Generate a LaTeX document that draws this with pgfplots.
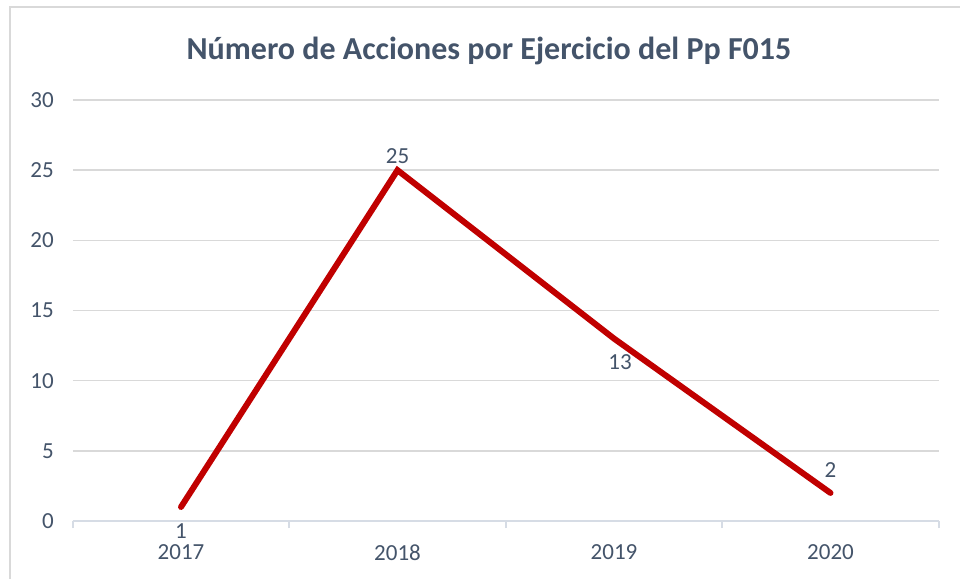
\documentclass[border=0pt]{standalone}
\usepackage{fontspec}
\setmainfont{Carlito}
\usepackage{pgfplots}
\pgfplotsset{compat=1.18}
\definecolor{txt}{HTML}{44546A}
\definecolor{grd}{HTML}{D9D9D9}
\definecolor{axl}{HTML}{D6DCE5}
\definecolor{ln}{HTML}{C00000}
\begin{document}
\begin{tikzpicture}
\useasboundingbox (0,0) rectangle (480pt,-289.5pt);
\fill[white] (0,0) rectangle (480pt,-289.5pt);
\draw[grd, line width=0.75pt] (5pt,-291pt) -- (5pt,-3.5pt) -- (482pt,-3.5pt);
\node[text=txt, font=\fontsize{16pt}{19pt}\selectfont\bfseries] at (244.5pt,-25.5pt) {Número de Acciones por Ejercicio del Pp F015};
\begin{axis}[
  at={(90.5pt,-260.5pt)}, anchor=origin,
  scale only axis, width=433pt, height=210.5pt,
  xmin=-0.5, xmax=3.5, ymin=0, ymax=30,
  xtick={0,1,2,3}, xticklabels={2017,2018,2019,2020},
  minor xtick={-0.5,0.5,1.5,2.5,3.5},
  ytick={0,5,10,15,20,25,30},
  major tick length=0pt, minor tick length=3.5pt, tick align=outside,
  axis x line*=bottom, axis y line*=left,
  x axis line style={axl, line width=1pt, -},
  y axis line style={draw=none},
  minor x tick style={axl, line width=1pt},
  ymajorgrids, grid style={grd, line width=0.75pt},
  tick label style={text=txt, font=\fontsize{11.5pt}{13pt}\selectfont},
  /pgf/number format/assume math mode=true,
  yticklabel style={xshift=-6pt},
  xticklabel style={yshift=-8.5pt},
  clip=false,
  nodes near coords,
  point meta=explicit,
  visualization depends on={\thisrow{dy} \as \dy},
  visualization depends on={\thisrow{dx} \as \dx},
  nodes near coords style={anchor=center, text=txt, font=\fontsize{11.5pt}{13pt}\selectfont, yshift=\dy pt, xshift=\dx pt},
]
\addplot[ln, line width=3pt, line cap=round, line join=miter, mark=none] table[x=x, y=y, meta=y] {
x y dy dx
0 1 -12 0
1 25 7 0
2 13 -11.7 3
3 2 11.5 0
};
\end{axis}
\end{tikzpicture}
\end{document}
